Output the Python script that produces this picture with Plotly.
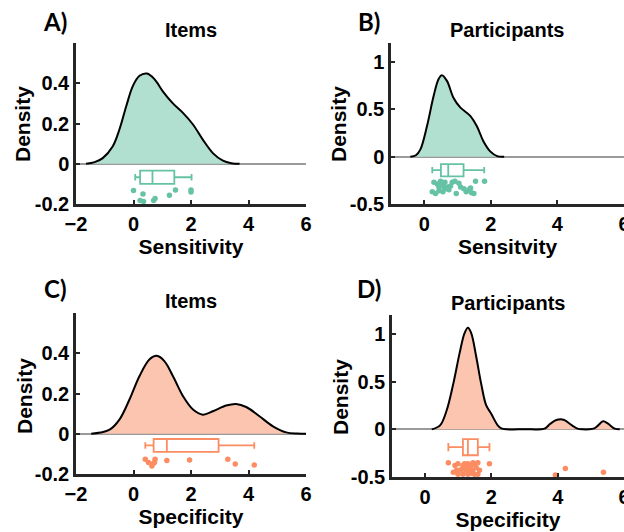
import plotly.graph_objects as go

TEAL_FILL = "#b2e0d0"
TEAL = "#66c2a5"
ORANGE_FILL = "#fcc5b0"
ORANGE = "#fc8d62"
AXIS = "#262626"

# ---------------- Panel A: Items / Sensitivity ----------------
a_kde_x = [-1.65, -1.35, -1.07, -0.72, -0.49, -0.25, -0.02, 0.21, 0.47, 0.73, 1.02, 1.37,
           1.72, 2.07, 2.41, 2.76, 3.11, 3.4, 3.69]
a_kde_y = [0, 0.008, 0.028, 0.087, 0.17, 0.287, 0.387, 0.437, 0.448, 0.42, 0.36, 0.30,
           0.253, 0.195, 0.12, 0.053, 0.015, 0.003, 0]
a_pts_x = [0.0, 0.33, 0.23, 0.35, 0.70, 0.75, 1.25, 1.46, 2.0, 2.0]
a_pts_y = [-0.133, -0.15, -0.183, -0.187, -0.183, -0.173, -0.157, -0.13, -0.13, -0.14]
a_box = dict(q1=0.23, median=0.66, q3=1.42, lo=0.06, hi=2.02, pos=-0.067, w=0.066)

# ---------------- Panel B: Participants / Sensitivity ----------------
b_kde_x = [-0.42, -0.25, -0.12, 0.08, 0.28, 0.43, 0.53, 0.68, 0.88, 1.08, 1.38, 1.58,
           1.78, 1.98, 2.19, 2.4]
b_kde_y = [0, 0.015, 0.074, 0.32, 0.64, 0.82, 0.86, 0.80, 0.62, 0.52, 0.43, 0.32,
           0.16, 0.056, 0.006, 0]
b_pts_x = [0.29, 0.39, 0.49, 0.54, 0.62, 0.69, 0.84, 0.92, 1.04, 1.09, 1.19, 1.26, 1.34,
           1.42, 1.49, 1.54, 1.81, 0.24, 0.34, 0.44, 0.56, 0.64, 0.74, 0.96, 0.79, 0.44,
           0.59, 1.39]
b_pts_y = [-0.27, -0.29, -0.26, -0.30, -0.27, -0.32, -0.27, -0.26, -0.28, -0.32, -0.34,
           -0.37, -0.35, -0.38, -0.39, -0.26, -0.26, -0.37, -0.39, -0.36, -0.37, -0.34,
           -0.35, -0.39, -0.31, -0.32, -0.32, -0.33]
b_box = dict(q1=0.50, median=0.72, q3=1.18, lo=0.24, hi=1.80, pos=-0.143, w=0.13)

# ---------------- Panel C: Items / Specificity ----------------
c_kde_x = [-1.47, -1.15, -0.83, -0.49, -0.14, 0.21, 0.56, 0.81, 1.08, 1.37, 1.72, 2.07,
           2.41, 2.76, 3.22, 3.57, 3.92, 4.38, 4.85, 5.31, 5.7, 6.0]
c_kde_y = [0, 0.006, 0.02, 0.07, 0.17, 0.287, 0.37, 0.387, 0.36, 0.287, 0.187, 0.12,
           0.095, 0.112, 0.14, 0.148, 0.133, 0.087, 0.037, 0.007, 0.001, 0]
c_pts_x = [0.41, 0.52, 0.64, 0.70, 0.75, 0.73, 1.16, 1.95, 3.28, 3.54, 4.2]
c_pts_y = [-0.127, -0.143, -0.16, -0.147, -0.127, -0.142, -0.133, -0.13, -0.127, -0.15, -0.155]
c_box = dict(q1=0.70, median=1.16, q3=2.96, lo=0.41, hi=4.2, pos=-0.058, w=0.064)

# ---------------- Panel D: Participants / Specificity ----------------
d_kde_x = [0.2, 0.45, 0.65, 0.85, 1.04, 1.19, 1.29, 1.39, 1.54, 1.69, 1.84, 1.99, 2.19,
           2.3, 2.45, 2.8, 3.2, 3.5, 3.62, 3.78, 3.98, 4.18, 4.43, 4.6, 4.75, 4.95, 5.1,
           5.22, 5.37, 5.52, 5.72, 5.87]
d_kde_y = [0, 0.042, 0.20, 0.48, 0.80, 1.01, 1.065, 1.01, 0.765, 0.48, 0.254, 0.166, 0.042,
           0.01, 0, 0, 0, 0, 0.01, 0.06, 0.10, 0.10, 0.042, 0.008, 0, 0, 0.01,
           0.042, 0.085, 0.06, 0.007, 0]
d_pts_x = [0.70, 0.90, 0.95, 0.99, 1.10, 1.14, 1.19, 1.24, 1.29, 1.34, 1.39, 1.44, 1.49,
           1.54, 1.59, 1.64, 1.94, 0.85, 0.99, 1.14, 1.29, 1.39, 1.49, 1.59, 1.04, 1.24,
           1.44, 4.23, 3.93, 5.38]
d_pts_y = [-0.35, -0.38, -0.43, -0.36, -0.42, -0.38, -0.36, -0.39, -0.36, -0.42, -0.38,
           -0.35, -0.36, -0.40, -0.35, -0.43, -0.36, -0.45, -0.47, -0.47, -0.47, -0.46,
           -0.47, -0.47, -0.43, -0.43, -0.43, -0.41, -0.48, -0.45]
d_box = dict(q1=1.14, median=1.29, q3=1.59, lo=0.70, hi=1.94, pos=-0.187, w=0.17)

panels = [
    dict(kx=a_kde_x, ky=a_kde_y, px=a_pts_x, py=a_pts_y, box=a_box, fill=TEAL_FILL, col=TEAL),
    dict(kx=b_kde_x, ky=b_kde_y, px=b_pts_x, py=b_pts_y, box=b_box, fill=TEAL_FILL, col=TEAL),
    dict(kx=c_kde_x, ky=c_kde_y, px=c_pts_x, py=c_pts_y, box=c_box, fill=ORANGE_FILL, col=ORANGE),
    dict(kx=d_kde_x, ky=d_kde_y, px=d_pts_x, py=d_pts_y, box=d_box, fill=ORANGE_FILL, col=ORANGE),
]

fig = go.Figure()
for i, p in enumerate(panels, start=1):
    xa = "x" if i == 1 else f"x{i}"
    ya = "y" if i == 1 else f"y{i}"
    fig.add_trace(go.Scatter(x=p["kx"], y=p["ky"], mode="lines", line=dict(color="black", width=2, shape="spline"),
                             fill="tozeroy", fillcolor=p["fill"], xaxis=xa, yaxis=ya, showlegend=False,
                             hoverinfo="skip"))
    b = p["box"]
    fig.add_trace(go.Box(q1=[b["q1"]], median=[b["median"]], q3=[b["q3"]], lowerfence=[b["lo"]],
                         upperfence=[b["hi"]], y=[b["pos"]], orientation="h", width=b["w"],
                         fillcolor="rgba(255,255,255,0)", line=dict(color=p["col"], width=1.8),
                         boxpoints=False, xaxis=xa, yaxis=ya, showlegend=False))
    fig.add_trace(go.Scatter(x=p["px"], y=p["py"], mode="markers",
                             marker=dict(color=p["col"], size=5.5), xaxis=xa, yaxis=ya, showlegend=False))

FONT = "Liberation Sans, Arial, sans-serif"
tickfont = dict(family=FONT, size=20, color="black", weight="bold")
titlefont = dict(family=FONT, size=21, color="black", weight="bold")

H = 532.0
W = 624.0
dom = {
    1: dict(x=[76 / W, 306 / W], y=[1 - 204 / H, 1 - 43 / H], xr=[-2, 6], yr=[-0.2, 0.6],
            xt=[-2, 0, 2, 4, 6], yt=[-0.2, 0, 0.2, 0.4], ytt=["-0.2", "0", "0.2", "0.4"], xtitle="Sensitivity"),
    2: dict(x=[391 / W, 1.0], y=[1 - 204 / H, 1 - 43 / H], xr=[-1, 6], yr=[-0.5, 1.2],
            xt=[0, 2, 4, 6], yt=[-0.5, 0, 0.5, 1], ytt=["-0.5", "0", "0.5", "1"], xtitle="Sensitvity"),
    3: dict(x=[76 / W, 306 / W], y=[1 - 474 / H, 1 - 313 / H], xr=[-2, 6], yr=[-0.2, 0.6],
            xt=[-2, 0, 2, 4, 6], yt=[-0.2, 0, 0.2, 0.4], ytt=["-0.2", "0", "0.2", "0.4"], xtitle="Specificity"),
    4: dict(x=[392 / W, 1.0], y=[1 - 477 / H, 1 - 315 / H], xr=[-1, 6], yr=[-0.5, 1.2],
            xt=[0, 2, 4, 6], yt=[-0.5, 0, 0.5, 1], ytt=["-0.5", "0", "0.5", "1"], xtitle="Specificity"),
}
layout = {}
for i, d in dom.items():
    xk = "xaxis" if i == 1 else f"xaxis{i}"
    yk = "yaxis" if i == 1 else f"yaxis{i}"
    xa = "x" if i == 1 else f"x{i}"
    ya = "y" if i == 1 else f"y{i}"
    layout[xk] = dict(domain=d["x"], range=d["xr"], anchor=ya, tickvals=d["xt"], ticks="inside",
                      ticklen=4, tickwidth=2, tickcolor=AXIS, showline=True, linecolor=AXIS, linewidth=2.5,
                      showgrid=False, zeroline=False, tickfont=tickfont, automargin=False,
                      ticklabelstandoff=0, ticklabeloverflow="allow",
                      title=dict(text=d["xtitle"], font=titlefont, standoff=3))
    layout[yk] = dict(domain=d["y"], range=d["yr"], anchor=xa, tickvals=d["yt"], ticktext=d["ytt"],
                      ticks="inside", ticklen=4, tickwidth=2, tickcolor=AXIS, showline=True, linecolor=AXIS,
                      linewidth=2.5, showgrid=False, zeroline=True, zerolinecolor="#9a9a9a", zerolinewidth=1.5,
                      tickfont=tickfont, automargin=False, ticklabelstandoff=0)

titles = [("Items", 191, 30), ("Participants", 507, 30), ("Items", 191, 301), ("Participants", 508, 303)]
letters = [("A)", 55, 22), ("B)", 369, 21), ("C)", 55, 288), ("D)", 369, 288)]
ylabels = [("Density", 23, 124), ("Density", 339, 124), ("Density", 24, 396), ("Density", 340, 397)]
ann = []
for t, x, y in titles:
    ann.append(dict(text=t, x=x / W, y=1 - y / H, xref="paper", yref="paper", showarrow=False,
                    xanchor="center", yanchor="middle", font=dict(family=FONT, size=20, color="black", weight="bold")))
for t, x, y in ylabels:
    ann.append(dict(text=t, x=x / W, y=1 - y / H, xref="paper", yref="paper", showarrow=False, textangle=-90,
                    xanchor="center", yanchor="middle", font=titlefont))
for t, x, y in letters:
    ann.append(dict(text=t, x=x / W, y=1 - y / H, xref="paper", yref="paper", showarrow=False,
                    xanchor="center", yanchor="middle", font=dict(family="Lato, Open Sans, sans-serif", size=24,
                                                                   color="black", weight="bold")))

fig.update_layout(width=624, height=532, margin=dict(l=0, r=0, t=0, b=0, autoexpand=False),
                  paper_bgcolor="white", plot_bgcolor="white", annotations=ann, showlegend=False, **layout)
fig.write_html("out.html")
